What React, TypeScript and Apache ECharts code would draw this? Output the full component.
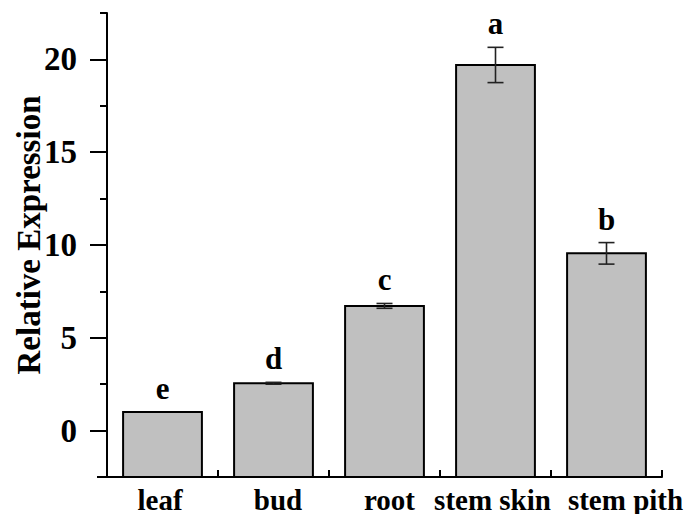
import React, { useEffect, useRef } from "react";
import * as echarts from "echarts";

const categories = ["leaf", "bud", "root", "stem skin", "stem pith"];
const values = [1.0, 2.55, 6.72, 19.7, 9.55];
const errors = [0, 0.05, 0.13, 0.95, 0.58];
const letters = ["e", "d", "c", "a", "b"];
const yTickValues = [0, 5, 10, 15, 20];
const labelShift = [-2.5, 4.5, 5, -3, 19];
const Y_MIN = -2.5;
const Y_MAX = 22.5;

const FONT = "'Liberation Serif', 'Times New Roman', serif";

export default function App() {
  const ref = useRef<HTMLDivElement>(null);
  useEffect(() => {
    if (!ref.current) return;
    const chart = echarts.init(ref.current, undefined, { renderer: "svg" });
    const yCommon = {
      type: "value",
      min: Y_MIN,
      max: Y_MAX,
      interval: 2.5,
      position: "left",
      splitLine: { show: false },
    };
    chart.setOption({
      animation: false,
      backgroundColor: "#ffffff",
      grid: { left: 107, right: 25, top: 13, bottom: 37, containLabel: false },
      xAxis: {
        type: "category",
        data: categories.map((c, i) => ({
          value: c,
          textStyle: {
            padding:
              labelShift[i] >= 0
                ? [0, 0, 0, labelShift[i] * 2]
                : [0, -labelShift[i] * 2, 0, 0],
          },
        })),
        boundaryGap: true,
        axisLine: { onZero: false, lineStyle: { color: "#000", width: 2 } },
        axisTick: { show: true, inside: true, length: 7, lineStyle: { color: "#000", width: 2 } },
        axisLabel: {
          color: "#000",
          fontFamily: FONT,
          fontWeight: "bold",
          fontSize: 29,
          margin: 8,
          interval: 0,
        },
        splitLine: { show: false },
      },
      yAxis: [
        {
          ...yCommon,
          name: "Relative Expression",
          nameLocation: "middle",
          nameGap: 62,
          nameTextStyle: {
            color: "#000",
            fontFamily: FONT,
            fontWeight: "bold",
            fontSize: 33,
            padding: [0, 0, 0, 20],
          },
          axisLine: { show: true, lineStyle: { color: "#000", width: 2 } },
          axisTick: { show: true, inside: false, length: 7, lineStyle: { color: "#000", width: 2 } },
          axisLabel: { show: false },
        },
        {
          ...yCommon,
          axisLine: { show: false },
          axisTick: {
            show: true,
            inside: false,
            length: 17,
            customValues: yTickValues,
            lineStyle: { color: "#000", width: 2 },
          },
          axisLabel: {
            show: true,
            customValues: yTickValues,
            color: "#000",
            fontFamily: FONT,
            fontWeight: "bold",
            fontSize: 33,
            margin: 30,
          },
        },
      ],
      graphic: [
        {
          type: "line",
          shape: { x1: 97, y1: 477, x2: 107, y2: 477 },
          style: { stroke: "#000", lineWidth: 2 },
        },
      ],
      series: [
        {
          type: "custom",
          name: "bars",
          z: 2,
          data: categories.map((c, i) => [i, values[i]]),
          encode: { x: 0, y: 1 },
          renderItem: (params: any, api: any) => {
            const i = api.value(0);
            const v = api.value(1);
            const top = api.coord([i, v]);
            const base = api.coord([i, Y_MIN]);
            const w = api.size([1, 0])[0] * 0.71;
            return {
              type: "rect",
              shape: { x: top[0] - w / 2, y: top[1], width: w, height: base[1] - top[1] },
              style: { fill: "#c0c0c0", stroke: "#000", lineWidth: 2 },
            };
          },
        },
        {
          type: "custom",
          name: "errors",
          z: 3,
          data: categories.map((c, i) => [i, values[i], errors[i]]),
          encode: { x: 0, y: 1 },
          renderItem: (params: any, api: any) => {
            const i = api.value(0);
            const v = api.value(1);
            const e = api.value(2);
            const top = api.coord([i, v + e]);
            const bot = api.coord([i, v - e]);
            const x = top[0];
            const half = 8;
            const children: any[] = [];
            if (e > 0) {
              const ls = { stroke: "#222", lineWidth: 1.6 };
              children.push(
                { type: "line", shape: { x1: x, y1: top[1], x2: x, y2: bot[1] }, style: ls },
                { type: "line", shape: { x1: x - half, y1: top[1], x2: x + half, y2: top[1] }, style: ls },
                { type: "line", shape: { x1: x - half, y1: bot[1], x2: x + half, y2: bot[1] }, style: ls }
              );
            }
            children.push({
              type: "text",
              x: x,
              y: top[1] - 8,
              style: {
                text: letters[params.dataIndex],
                textAlign: "center",
                textVerticalAlign: "bottom",
                fill: "#000",
                font: `bold 31px ${FONT}`,
              },
            });
            return { type: "group", children };
          },
        },
      ],
    });
    return () => chart.dispose();
  }, []);
  return (
    <div
      ref={ref}
      style={{ position: "fixed", left: 0, top: 0, width: 687, height: 514, background: "#fff" }}
    />
  );
}
